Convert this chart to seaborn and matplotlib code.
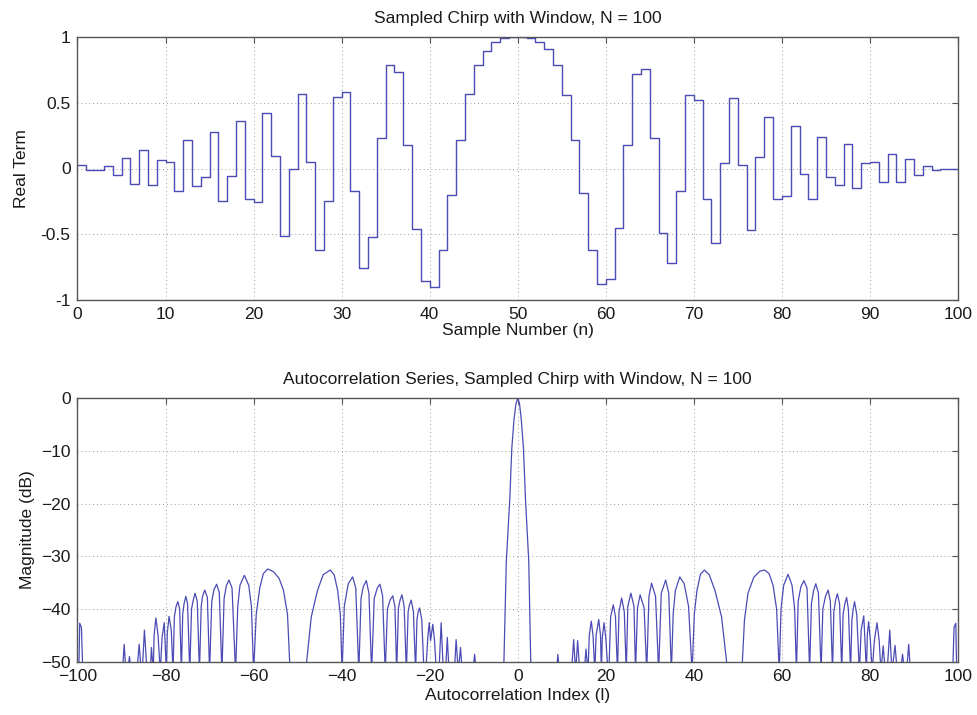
import matplotlib
matplotlib.use("Agg")
import matplotlib.pyplot as plt
import pandas as pd
import seaborn as sns

# ---------------- data ----------------
sample_n = list(range(100))
real_term = [
    0.025, -0.01, -0.01, 0.02, -0.05, 0.08, -0.115, 0.14, -0.125, 0.065,
    0.05, -0.17, 0.22, -0.135, -0.065, 0.28, -0.25, -0.055, 0.36, -0.235,
    -0.255, 0.42, 0.095, -0.51, -0.005, 0.565, 0.05, -0.62, -0.25, 0.54,
    0.58, -0.17, -0.76, -0.52, 0.235, 0.79, 0.735, 0.18, -0.46, -0.855,
    -0.9, -0.62, -0.2, 0.22, 0.565, 0.79, 0.89, 0.965, 0.995, 1.0,
    1.0, 0.99, 0.965, 0.905, 0.79, 0.56, 0.22, -0.19, -0.62, -0.88,
    -0.84, -0.45, 0.18, 0.715, 0.76, 0.235, -0.49, -0.715, -0.17, 0.56,
    0.52, -0.23, -0.57, 0.04, 0.535, 0.03, -0.47, 0.09, 0.39, -0.23,
    -0.21, 0.32, -0.045, -0.23, 0.24, -0.065, -0.125, 0.19, -0.15, 0.04,
    0.05, -0.1, 0.11, -0.1, 0.075, -0.05, 0.02, -0.01, 0.0, 0.0,
]

# autocorrelation magnitude (dB) traced vertex by vertex (values below the
# -50 dB floor are clipped by the axes), negative lags
acf_left = [
    (-99.7, -52), (-99.5, -42.7), (-99.1, -43.5), (-98.8, -52),
    (-89.8, -52), (-89.4, -46.7), (-89.0, -52),
    (-88.6, -52), (-88.2, -49.0), (-87.8, -52),
    (-86.5, -52), (-86.0, -46.7), (-85.5, -52),
    (-85.3, -52), (-84.8, -44.0), (-84.2, -52),
    (-83.5, -52), (-83.2, -47.3), (-82.8, -52),
    (-82.6, -45.0), (-82.2, -41.7), (-81.7, -45.0), (-81.2, -52),
    (-80.8, -45.5), (-80.3, -42.6), (-79.8, -52),
    (-79.6, -44.5), (-79.2, -41.4), (-78.7, -44.0), (-78.3, -52),
    (-78.0, -41.5), (-77.6, -39.5), (-77.2, -38.6), (-76.8, -40.0), (-76.4, -52),
    (-76.1, -41.0), (-75.8, -39.0), (-75.4, -37.6), (-75.0, -39.0), (-74.5, -52),
    (-74.1, -40.0), (-73.7, -38.3), (-73.3, -37.0), (-72.8, -38.5), (-72.3, -52),
    (-71.9, -39.5), (-71.6, -37.6), (-71.1, -36.4), (-70.5, -37.8), (-70.0, -52),
    (-69.5, -38.5), (-69.0, -36.3), (-68.4, -35.3), (-67.8, -36.8), (-67.2, -52),
    (-66.7, -38.0), (-66.2, -35.6), (-65.6, -34.5), (-64.9, -36.0), (-64.1, -52),
    (-63.6, -39.5), (-63.1, -35.5), (-62.1, -33.6), (-61.1, -35.5), (-60.5, -39.5), (-60.0, -52),
    (-59.4, -41.0), (-58.6, -36.0), (-57.8, -33.3), (-56.8, -32.4), (-55.5, -32.9),
    (-54.2, -34.2), (-53.2, -36.5), (-52.3, -41.0), (-51.7, -52),
    (-48.2, -52), (-46.9, -41.5), (-45.5, -36.5), (-44.2, -33.5), (-42.6, -32.6),
    (-41.7, -33.5), (-40.9, -36.5), (-40.3, -41.0), (-39.9, -52),
    (-39.4, -39.5), (-38.5, -35.2), (-37.5, -33.9), (-36.8, -36.0), (-36.1, -52),
    (-35.6, -38.0), (-35.1, -35.8), (-34.4, -34.6), (-33.8, -37.0), (-33.2, -52),
    (-32.6, -38.0), (-31.9, -36.0), (-31.3, -35.3), (-30.7, -37.5), (-30.1, -52),
    (-29.6, -40.0), (-29.0, -38.3), (-28.4, -37.5), (-27.9, -39.5), (-27.5, -52),
    (-27.1, -39.8), (-26.7, -38.2), (-26.3, -37.3), (-25.8, -39.5), (-25.3, -52),
    (-24.9, -40.5), (-24.6, -39.2), (-24.2, -38.3), (-23.7, -40.5), (-23.2, -52),
    (-22.9, -42.0), (-22.6, -40.5), (-22.3, -39.8), (-21.8, -42.0), (-21.3, -52),
    (-20.9, -52), (-20.4, -45.0), (-20.1, -42.6), (-19.8, -46.0), (-19.3, -42.9),
    (-18.9, -46.0), (-18.5, -52),
    (-17.9, -52), (-17.4, -42.6), (-16.9, -52),
    (-16.4, -52), (-16.0, -45.4), (-15.6, -52),
    (-14.4, -52), (-14.0, -45.8), (-13.5, -52), (-13.0, -47.3), (-12.6, -52),
    (-10.2, -52), (-9.8, -48.6), (-9.4, -52),
    (-3.2, -52), (-2.6, -31.0), (-1.8, -19.0), (-1.35, -9.5), (-0.85, -4.0), (-0.4, -1.0),
]

# positive lags
acf_right = [
    (0.0, 0.0), (0.4, -1.0), (0.8, -4.0), (1.3, -9.5), (1.75, -19.0), (2.5, -31.0), (3.0, -52),
    (8.8, -52), (9.1, -48.6), (9.5, -52),
    (12.2, -52), (12.7, -45.8), (13.15, -52), (13.6, -46.0), (14.1, -52),
    (15.1, -52), (15.5, -47.6), (15.95, -52),
    (16.25, -45.0), (16.7, -42.3), (17.1, -45.0), (17.5, -52),
    (17.8, -45.0), (18.4, -42.0), (18.8, -45.0), (19.0, -52),
    (19.2, -45.5), (19.6, -42.6), (20.0, -45.5), (20.5, -52),
    (20.7, -52), (21.1, -41.5), (21.7, -39.2), (22.2, -41.5), (22.65, -52),
    (23.0, -40.5), (23.6, -37.9), (24.2, -40.5), (24.65, -52),
    (25.0, -39.5), (25.7, -37.0), (26.4, -39.5), (26.75, -52),
    (27.2, -39.8), (27.8, -37.3), (28.7, -39.8), (29.3, -52),
    (29.8, -37.6), (30.4, -35.1), (31.3, -37.6), (32.0, -52),
    (32.6, -37.0), (33.6, -34.5), (34.3, -37.0), (34.9, -52),
    (35.3, -41.0), (35.8, -36.5), (36.8, -33.9), (37.8, -35.2), (38.8, -39.5), (39.6, -52),
    (40.1, -41.0), (40.7, -36.5), (41.5, -33.4), (42.4, -32.6), (43.5, -33.5),
    (44.8, -36.5), (46.3, -41.5), (47.7, -52),
    (50.9, -52), (51.5, -42.0), (52.3, -37.0), (53.6, -34.0), (55.0, -32.8), (56.1, -32.6),
    (57.1, -33.3), (58.0, -35.5), (58.8, -40.0), (59.4, -52),
    (59.8, -40.0), (60.4, -35.5), (61.4, -33.4), (62.3, -35.5), (62.9, -40.0), (63.3, -52),
    (63.7, -38.5), (64.3, -35.8), (65.0, -34.6), (65.7, -36.0), (66.3, -52),
    (66.7, -39.0), (67.2, -36.5), (67.7, -35.2), (68.3, -37.0), (68.9, -52),
    (69.3, -40.0), (69.9, -37.6), (70.5, -36.4), (71.0, -38.5), (71.5, -52),
    (71.8, -40.5), (72.2, -38.3), (72.6, -37.1), (73.1, -39.0), (73.6, -52),
    (73.9, -41.0), (74.3, -39.0), (74.7, -37.8), (75.1, -40.0), (75.6, -52),
    (75.9, -42.0), (76.2, -40.0), (76.5, -38.6), (77.0, -41.0), (77.6, -52),
    (78.0, -44.0), (78.6, -41.3), (79.2, -52),
    (79.4, -45.0), (79.7, -42.4), (80.1, -46.0), (80.5, -52),
    (81.0, -46.0), (81.6, -42.6), (82.1, -46.0), (82.5, -52),
    (83.0, -47.0), (83.5, -52),
    (83.9, -52), (84.5, -44.0), (85.0, -52),
    (85.7, -46.9), (86.2, -52),
    (86.9, -52), (87.4, -48.6), (87.9, -52),
    (88.3, -52), (88.8, -46.7), (89.2, -52),
    (98.8, -52), (99.1, -43.5), (99.5, -42.7), (99.7, -52),
]

top_xticks = [0, 10, 20, 30, 40, 50, 60, 70, 80, 90, 100]
top_yticks = [-1, -0.5, 0, 0.5, 1]
top_ylabels = ["-1", "-0.5", "0", "0.5", "1"]
bot_xticks = [-100, -80, -60, -40, -20, 0, 20, 40, 60, 80, 100]
bot_yticks = [-50, -40, -30, -20, -10, 0]

# ---------------- style ----------------
sns.set_style("white")
plt.rcParams["font.family"] = ["Liberation Sans", "DejaVu Sans"]
FS = 12.5
LINE = "#4b4bb5"
TXT = "#1a1a1a"

fig = plt.figure(figsize=(9.78, 7.15), dpi=100)
W, H = 978.0, 715.0
ax1 = fig.add_axes([77.5 / W, 1 - 300 / H, 880.5 / W, 263 / H])
ax2 = fig.add_axes([77.5 / W, 1 - 661.7 / H, 880.5 / W, 263.4 / H])

top_df = pd.DataFrame({"n": sample_n + [100], "v": real_term + [real_term[-1]]})
sns.lineplot(data=top_df, x="n", y="v", drawstyle="steps-post", estimator=None,
             sort=False, color=LINE, linewidth=1.0, ax=ax1)

pts = acf_left + acf_right
acf_df = pd.DataFrame({"lag": [p[0] for p in pts], "db": [p[1] for p in pts]})
sns.lineplot(data=acf_df, x="lag", y="db", estimator=None, sort=False,
             color=LINE, linewidth=0.9, ax=ax2)


def style(ax):
    ax.grid(True, linestyle=(0, (1, 3)), color="#9a9a9a", linewidth=0.7)
    ax.tick_params(direction="in", top=True, right=True, length=4,
                   color="#555555", labelsize=FS, labelcolor=TXT, pad=5)
    for s in ax.spines.values():
        s.set_color("#555555")
        s.set_linewidth(1.0)
        s.set_visible(True)
        s.set_zorder(3)


ax1.set_xlim(0, 100)
ax1.set_ylim(-1, 1)
ax1.set_xticks(top_xticks)
ax1.set_yticks(top_yticks)
ax1.set_yticklabels(top_ylabels)
ax1.set_title("Sampled Chirp with Window, N = 100", fontsize=FS, color=TXT, pad=10)
ax1.set_xlabel("Sample Number (n)", fontsize=FS, color=TXT, labelpad=1)
ax1.set_ylabel("Real Term", fontsize=FS, color=TXT, labelpad=8)
style(ax1)

ax2.set_xlim(-100, 100)
ax2.set_ylim(-50, 0)
ax2.set_xticks(bot_xticks)
ax2.set_yticks(bot_yticks)
ax2.set_title("Autocorrelation Series, Sampled Chirp with Window, N = 100",
              fontsize=FS, color=TXT, pad=10)
ax2.set_xlabel("Autocorrelation Index (l)", fontsize=FS, color=TXT, labelpad=3)
ax2.set_ylabel("Magnitude (dB)", fontsize=FS, color=TXT, labelpad=4)
style(ax2)

fig.savefig("out.png", dpi=100)
